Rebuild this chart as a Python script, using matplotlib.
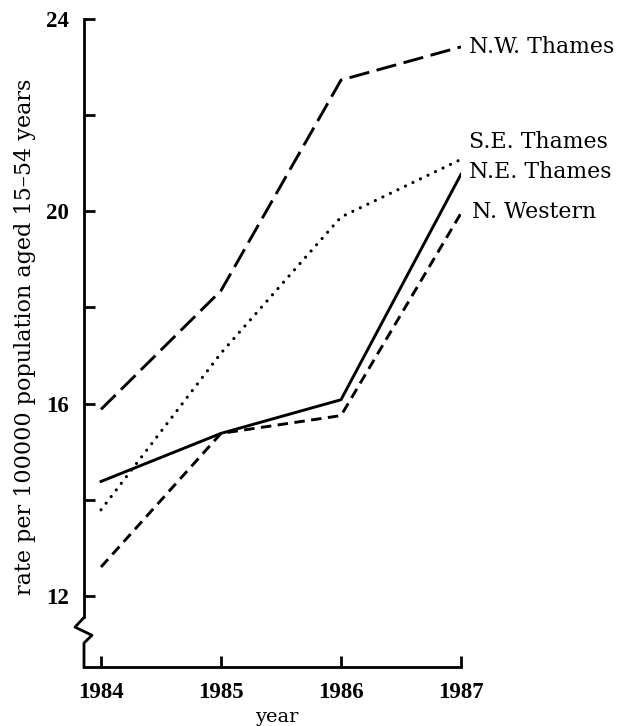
import matplotlib.pyplot as plt
from matplotlib.lines import Line2D

# --- data ---
years = [1984, 1985, 1986, 1987]
nw_thames = [15.88, 18.35, 22.73, 23.42]
se_thames = [13.79, 17.05, 19.88, 21.08]
ne_thames = [14.38, 15.38, 16.08, 20.77]
n_western = [12.60, 15.38, 15.75, 19.96]

series_names = ["N.W. Thames", "S.E. Thames", "N.E. Thames", "N. Western"]
label_y = [23.42, 21.44, 20.81, 19.98]

yticks = [12, 14, 16, 18, 20, 22, 24]
ytick_labels = ["12", "", "16", "", "20", "", "24"]

SERIF = "DejaVu Serif"
NUM = "Liberation Serif"

fig = plt.figure(figsize=(6.18, 7.26), dpi=100)
ax = fig.add_axes([84 / 618, 1 - 667 / 726, (461 - 84) / 618, (667 - 19) / 726])

ax.plot(years, nw_thames, color="black", lw=2.1, dashes=(7, 2.6))
ax.plot(years, se_thames, color="black", lw=2.3, dashes=(0.01, 2.6),
        dash_capstyle="round")
ax.plot(years, ne_thames, color="black", lw=2.1)
ax.plot(years, n_western, color="black", lw=2.1, dashes=(3.6, 2.2))

for name, yv in zip(series_names, label_y):
    dx = 0.09 if name == "N. Western" else 0.07
    ax.text(years[-1] + dx, yv, name, fontsize=15.8, family=SERIF,
            va="center", ha="left", clip_on=False)

ax.set_xlim(1983.858, 1987)
ax.set_ylim(10.52, 24)

ax.spines["top"].set_visible(False)
ax.spines["right"].set_visible(False)
ax.spines["left"].set_linewidth(2)
ax.spines["bottom"].set_linewidth(2)
ax.spines["left"].set_bounds(11.55, 24)

# axis break (zigzag) on the y axis
px = 1 / 377
zig_x = [0, -9 * px, 8 * px, 0, 0]
zig_y = [11.55, 11.35, 11.18, 11.02, 10.52]
ax.add_line(Line2D(zig_x, zig_y, color="black", lw=2,
                   transform=ax.get_yaxis_transform(), clip_on=False))

tick_font = dict(family=NUM, fontweight="bold", fontsize=16.5)
ax.set_xticks(years)
ax.set_xticklabels([str(y) for y in years], **tick_font)
ax.set_yticks(yticks)
ax.set_yticklabels(ytick_labels, **tick_font)
ax.tick_params(axis="both", direction="in", length=8, width=2)
ax.tick_params(axis="x", pad=11)
ax.tick_params(axis="y", pad=11)

fig.text(25 / 618, 1 - 337 / 726, "rate per 100000 population aged 15\u201354 years",
         rotation=90, ha="center", va="center", fontsize=16, family=SERIF)
fig.text(277 / 618, 1 - 722 / 726, "year", ha="center", va="baseline",
         fontsize=14, family=SERIF)

fig.savefig("out.png", dpi=100)
